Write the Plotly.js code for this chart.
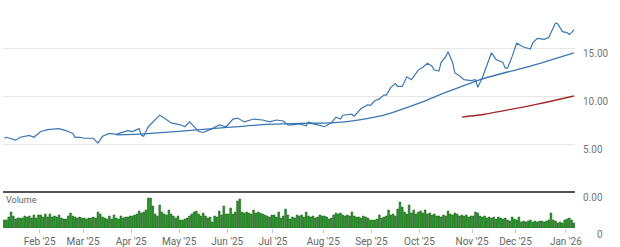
<!DOCTYPE html>
<html><head><meta charset="utf-8">
<script src="https://cdn.plot.ly/plotly-3.0.1.min.js"></script>
<style>html,body{margin:0;padding:0;background:#fff}#chart{width:620px;height:247px}</style>
</head><body><div id="chart"></div>
<script>
// Market holidays (closed days) for the trading-day axis
const holidays = ['2025-01-09','2025-01-20','2025-02-17','2025-04-18','2025-05-26','2025-06-19',
  '2025-07-04','2025-09-01','2025-11-27','2025-12-25','2026-01-01'];
const firstDay = '2025-01-08';
const lastDay = '2026-01-07';

// Price line (close)
const priceDates = ['2025-01-08','2025-01-10','2025-01-16','2025-01-21','2025-01-27','2025-01-29',
 '2025-02-03','2025-02-06','2025-02-13','2025-02-19','2025-02-24','2025-02-25','2025-02-27',
 '2025-03-03','2025-03-07','2025-03-11','2025-03-13','2025-03-18','2025-03-21','2025-03-28',
 '2025-04-01','2025-04-04','2025-04-07','2025-04-08','2025-04-10','2025-04-15','2025-04-17','2025-04-22','2025-04-25',
 '2025-05-01','2025-05-05','2025-05-07','2025-05-09','2025-05-13','2025-05-15','2025-05-21','2025-05-27','2025-05-30',
 '2025-06-04','2025-06-06','2025-06-11','2025-06-17','2025-06-24','2025-06-27',
 '2025-07-02','2025-07-08','2025-07-10','2025-07-14','2025-07-17','2025-07-22','2025-07-23','2025-07-25','2025-07-29',
 '2025-08-01','2025-08-06','2025-08-08','2025-08-12','2025-08-13','2025-08-19','2025-08-20','2025-08-25','2025-08-28','2025-08-29',
 '2025-09-03','2025-09-05','2025-09-09','2025-09-10','2025-09-12','2025-09-16','2025-09-17','2025-09-19','2025-09-23','2025-09-25','2025-09-30',
 '2025-10-02','2025-10-06','2025-10-08','2025-10-09','2025-10-13','2025-10-14','2025-10-16','2025-10-17','2025-10-21','2025-10-22','2025-10-24','2025-10-28','2025-10-31',
 '2025-11-04','2025-11-05','2025-11-07','2025-11-11','2025-11-13','2025-11-17','2025-11-18','2025-11-20','2025-11-21','2025-11-24','2025-11-26',
 '2025-12-01','2025-12-04','2025-12-08','2025-12-09','2025-12-10','2025-12-12','2025-12-17','2025-12-19','2025-12-23','2025-12-24','2025-12-26','2025-12-29','2025-12-30',
 '2026-01-02','2026-01-05','2026-01-06','2026-01-07'];
const priceValues = [5.6,5.7,5.4,5.7,5.9,5.7,
 6.3,6.5,6.6,6.4,6.1,5.7,5.7,
 5.6,5.6,5.1,5.8,6.1,6.0,6.4,
 6.3,6.6,5.9,5.8,6.8,7.5,8.0,7.7,7.2,
 7.0,6.8,7.3,6.8,6.3,6.2,6.6,7.0,6.8,
 7.6,7.7,7.3,7.6,7.5,7.3,
 7.5,7.4,7.0,7.0,7.1,6.9,7.3,7.1,7.0,
 6.8,7.2,7.8,7.6,8.0,8.1,7.9,8.7,9.1,9.0,
 9.5,9.7,10.1,10.1,10.9,11.3,11.0,11.0,12.0,11.7,12.7,
 13.0,13.4,13.1,12.7,12.6,13.5,14.1,14.6,13.5,12.4,12.1,11.7,11.6,
 11.7,10.9,11.9,13.2,14.5,13.8,13.7,13.5,12.9,12.9,14.1,
 15.5,15.1,15.0,14.9,15.5,16.0,15.9,16.1,17.1,17.6,17.5,17.1,16.7,
 16.6,16.4,16.6,16.9];

// Long moving average (blue)
const maDates = ['2025-03-21','2025-04-08','2025-05-21','2025-06-26','2025-07-17','2025-08-06','2025-08-25',
 '2025-09-05','2025-09-15','2025-09-22','2025-10-01','2025-10-14','2025-10-27','2025-11-06','2025-11-24',
 '2025-12-09','2025-12-18','2026-01-07'];
const maValues = [5.95,6.05,6.6,7.05,7.15,7.2,7.55,7.9,8.3,8.7,9.3,10.2,11.0,11.7,12.5,13.1,13.6,14.5];

// Second average (dark red)
const ma2Dates = ['2025-10-27','2025-11-10','2025-11-20','2025-12-05','2025-12-18','2026-01-07'];
const ma2Values = [7.8,8.1,8.45,8.9,9.35,10.0];

// Daily volume, one value per trading day from firstDay to lastDay
const volume = [
 8,8,11,16,12,9,10,10,10,12,11,12,10,13,10,13,
 13,11,14,11,14,11,12,11,13,10,9,9,12,15,12,11,10,11,10,
 10,9,10,10,11,10,16,14,11,10,9,12,9,13,10,9,12,10,11,11,12,
 12,13,14,17,15,16,18,30,30,22,14,12,23,16,14,13,18,14,12,10,12,
 8,8,9,10,12,14,16,17,14,12,15,12,10,11,6,12,11,17,13,22,14,
 14,20,14,16,27,29,16,15,16,15,14,18,15,16,15,14,13,12,11,13,
 13,11,16,10,12,19,13,9,11,10,13,12,13,11,16,12,11,12,10,11,13,12,
 12,11,9,10,13,15,14,15,13,12,13,12,16,12,11,11,10,12,11,10,8,
 8,8,9,13,10,11,12,18,13,14,12,19,26,21,16,14,23,15,18,14,16,
 17,15,18,14,15,13,14,12,12,11,13,12,17,14,13,15,14,12,13,12,13,11,12,
 12,16,15,12,11,12,10,11,10,11,9,11,10,9,10,8,7,11,9,
 8,11,6,7,6,7,8,6,7,6,7,7,6,7,8,15,8,7,5,6,5,8,
 9,10,8,5];

// calendar of trading days (weekdays that are not holidays)
function tradingDays(a, b) {
  const out = [];
  const d = new Date(a + 'T00:00:00Z');
  const end = new Date(b + 'T00:00:00Z');
  while (d <= end) {
    const s = d.toISOString().slice(0, 10);
    const wd = d.getUTCDay();
    if (wd !== 0 && wd !== 6 && holidays.indexOf(s) < 0) out.push(s);
    d.setUTCDate(d.getUTCDate() + 1);
  }
  return out;
}
const volDates = tradingDays(firstDay, lastDay);
const noon = s => s + ' 12:00';

const blue = '#3a77b3';
const traces = [
  {x: volDates.map(noon), y: volume, type: 'bar', xaxis: 'x', yaxis: 'y2',
   marker: {color: '#2e962e', line: {color: '#146314', width: 0.6}}, hoverinfo: 'skip'},
  {x: maDates.map(noon), y: maValues, type: 'scatter', mode: 'lines', line: {color: blue, width: 1.3, shape: 'spline', smoothing: 0.5}},
  {x: ma2Dates.map(noon), y: ma2Values, type: 'scatter', mode: 'lines', line: {color: '#a3282a', width: 1.3, shape: 'spline', smoothing: 0.5}},
  {x: priceDates.map(noon), y: priceValues, type: 'scatter', mode: 'lines', line: {color: blue, width: 1.2}}
];

const layout = {
  width: 620, height: 247,
  margin: {l: 3, r: 45, t: 0, b: 19},
  paper_bgcolor: '#fff', plot_bgcolor: '#fff',
  showlegend: false, bargap: 0.25,
  font: {family: 'Roboto, Arial, sans-serif', size: 10, color: '#666'},
  xaxis: {
    type: 'date', anchor: 'y2',
    range: [firstDay + ' 00:00', '2026-01-08 00:00'],
    rangebreaks: [{bounds: ['sat', 'mon']}, {values: holidays}],
    tick0: '2025-01-01', dtick: 'M1', tickformat: "%b '%y",
    ticks: 'outside', ticklen: 4, tickcolor: '#b3cbe4',
    tickfont: {size: 10, color: '#666'},
    showgrid: false, zeroline: false, showline: false
  },
  yaxis: {
    domain: [0.1579, 1], range: [0, 20], side: 'right',
    tickvals: [0, 5, 10, 15], tickformat: '.2f',
    gridcolor: '#e6e6e6', gridwidth: 1, zeroline: false, showline: false,
    tickfont: {size: 10, color: '#777'}, ticklabelshift: 5, ticklabelstandoff: 7
  },
  yaxis2: {
    domain: [0, 0.14], range: [0, 32], side: 'right', anchor: 'x',
    tickvals: [0], ticktext: ['0'], showgrid: false, zeroline: false, showline: false,
    tickfont: {size: 10, color: '#777'}, ticklabelshift: 6, ticklabelstandoff: 21
  },
  shapes: [
    {type: 'line', xref: 'paper', yref: 'paper', x0: 0, x1: 1, y0: 0.1579, y1: 0.1579,
     line: {color: '#555', width: 2}}
  ],
  annotations: [
    {text: 'Volume', xref: 'paper', yref: 'paper', x: 0, y: 0.122, xanchor: 'left', yanchor: 'middle',
     showarrow: false, font: {size: 9, color: '#666'}, xshift: 1}
  ]
};

Plotly.newPlot('chart', traces, layout, {displayModeBar: false, staticPlot: true});
</script>
</body></html>
